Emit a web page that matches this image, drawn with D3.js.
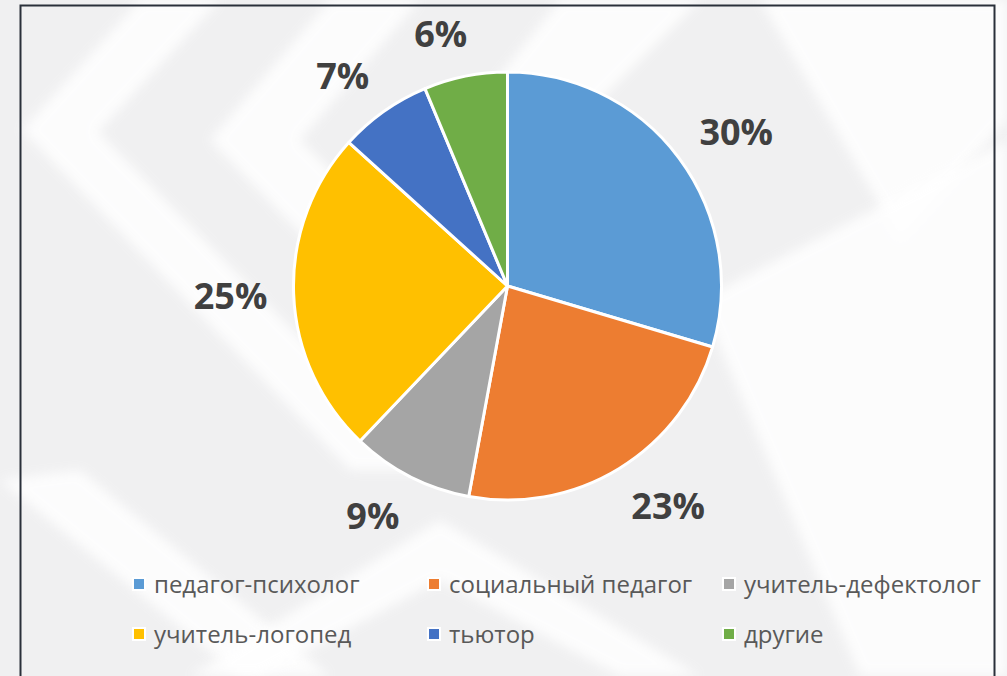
<!DOCTYPE html>
<html lang="ru">
<head>
	<meta charset="UTF-8">
	<title>Специалисты</title>
	<script src="https://cdn.jsdelivr.net/npm/d3@7/dist/d3.min.js"></script>
	<style>
		html, body{
			margin: 0;
			padding: 0;
			background: #f3f3f3;
		}
		svg{
			display: block;
		}
	</style>
</head>
<body>
	<div class="pie"></div>
	<script>
		var categories = ['педагог-психолог', 'социальный педагог', 'учитель-дефектолог', 'учитель-логопед', 'тьютор', 'другие'];
		var values = [29.6, 23.3, 9.2, 24.6, 7.0, 6.3];
		var colors = ['#5b9bd5', '#ed7d31', '#a5a5a5', '#ffc000', '#4472c4', '#70ad47'];

		var width = 1007;
		var height = 676;
		var center = { x: 507.5, y: 286 };
		var radius = 214;

		var svg = d3.select('.pie')
					.append('svg')
					.attr('width', width)
					.attr('height', height);

		// soft background with white chevron bands
		var defs = svg.append('defs');
		defs.append('filter')
			.attr('id', 'soft')
			.append('feGaussianBlur')
			.attr('stdDeviation', 6);
		var bg = svg.append('g');
		bg.append('rect')
			.attr('width', width)
			.attr('height', height)
			.attr('fill', '#f0f0f1');
		var bands = [
			[[140, 0], [220, 0], [98, 132], [430, 470], [350, 470], [22, 130]],
			[[330, 0], [420, 0], [300, 140], [600, 440], [520, 460], [210, 140]],
			[[560, 0], [700, 0], [420, 280], [360, 250]],
			[[80, 470], [330, 676], [240, 676], [0, 480]],
			[[440, 520], [700, 676], [620, 676], [440, 580], [260, 676], [190, 676]],
			[[760, 0], [1007, 0], [1007, 120], [900, 240]],
			[[700, 300], [1007, 140], [1007, 676], [860, 676]]
		];
		bg.selectAll('path.band')
			.data(bands)
			.enter()
			.append('path')
			.attr('class', 'band')
			.attr('d', function(d){ return d3.line()(d) + 'Z'; })
			.attr('fill', '#ffffff')
			.attr('opacity', 0.85)
			.attr('filter', 'url(#soft)');

		// frame
		svg.append('rect')
			.attr('x', 20.5)
			.attr('y', 5.5)
			.attr('width', 974)
			.attr('height', 700)
			.attr('fill', 'none')
			.attr('stroke', '#2a303a')
			.attr('stroke-width', 2);

		var pie = d3.pie()
					.sort(null)
					.value(function(d){ return d; });
		var arc = d3.arc()
					.innerRadius(0)
					.outerRadius(radius);
		var arcs = pie(values);

		var g = svg.append('g')
					.attr('transform', 'translate(' + center.x + ',' + center.y + ')');

		g.selectAll('path.slice')
			.data(arcs)
			.enter()
			.append('path')
			.attr('class', 'slice')
			.attr('d', arc)
			.attr('fill', function(d, i){ return colors[i]; })
			.attr('stroke', '#ffffff')
			.attr('stroke-width', 3)
			.attr('stroke-linejoin', 'round');

		// percent labels outside the end of each slice
		var total = d3.sum(values);
		var labels = g.selectAll('text.pct')
			.data(arcs)
			.enter()
			.append('text')
			.attr('class', 'pct')
			.attr('text-anchor', 'middle')
			.attr('dominant-baseline', 'central')
			.style('font-family', '"Open Sans", sans-serif')
			.style('font-weight', 'bold')
			.style('font-size', '36px')
			.attr('fill', '#404040')
			.text(function(d){ return Math.round(d.value / total * 100) + '%'; });

		labels.attr('transform', function(d){
			var a = (d.startAngle + d.endAngle) / 2;
			var box = this.getBBox();
			var r = radius + 30;
			var s = Math.sin(a), c = Math.cos(a);
			var x = r * s + box.width / 2 * Math.sign(s) * Math.min(1, Math.abs(s) * 4) * 0.9;
			var y = -r * c - 14 * c;
			return 'translate(' + x + ',' + y + ')';
		});

		// legend
		var legendX = d3.scalePoint()
						.domain([0, 1, 2])
						.range([133, 723]);
		var legendY = d3.scalePoint()
						.domain([0, 1])
						.range([584, 634]);

		var items = svg.append('g')
			.selectAll('g.item')
			.data(categories)
			.enter()
			.append('g')
			.attr('class', 'item')
			.attr('transform', function(d, i){
				return 'translate(' + legendX(i % 3) + ',' + legendY(Math.floor(i / 3)) + ')';
			});

		items.append('rect')
			.attr('x', 0)
			.attr('y', -6)
			.attr('width', 12)
			.attr('height', 12)
			.attr('fill', function(d, i){ return colors[i]; })
			.attr('stroke', '#ffffff')
			.attr('stroke-width', 2);

		items.append('text')
			.attr('x', 21)
			.attr('y', 9)
			.style('font-family', '"Open Sans", sans-serif')
			.style('font-size', '24px')
			.attr('fill', '#595959')
			.text(function(d){ return d; });
	</script>
</body>
</html>
